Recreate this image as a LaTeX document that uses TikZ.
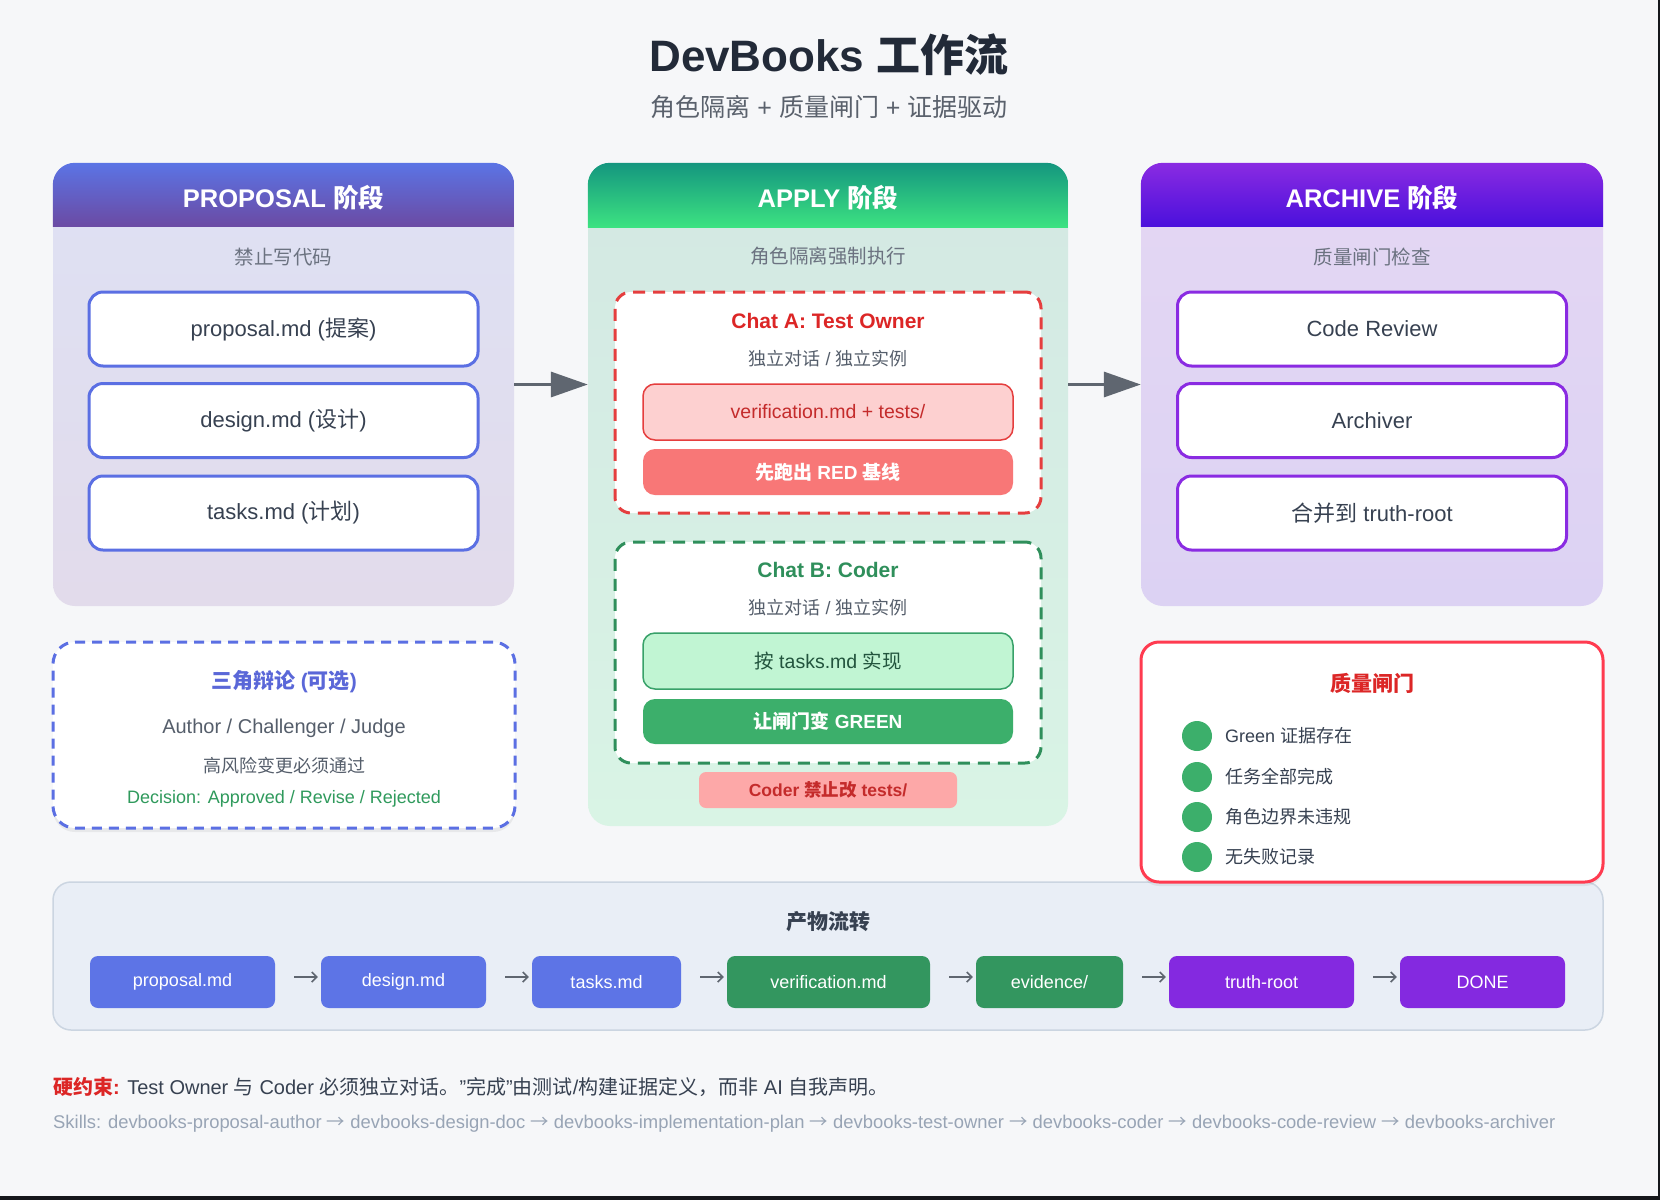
\documentclass[tikz,border=0pt]{standalone}
\usepackage{fontspec}
\setmainfont{Liberation Sans}
\newfontfamily\cjk{Noto Sans CJK SC}
\newcommand\zh[1]{{\cjk #1}}
\newcommand\setfs[1]{\fontsize{#1}{#1}\selectfont}
\newcommand\skarr{{\cjk →}}
\usetikzlibrary{arrows.meta,shadows,calc}

\definecolor{bgc}{HTML}{F6F7F9}
\definecolor{edgec}{HTML}{15171B}
\definecolor{titlec}{HTML}{222A38}
\definecolor{subc}{HTML}{5A616C}
\definecolor{bodyc}{HTML}{374151}
\definecolor{mutedc}{HTML}{6B7280}
\definecolor{propTop}{HTML}{DEE1F4}
\definecolor{propBot}{HTML}{E2DBEB}
\definecolor{propHTop}{HTML}{5B74E5}
\definecolor{propHBot}{HTML}{6B4AA3}
\definecolor{appTop}{HTML}{D3E8E3}
\definecolor{appBot}{HTML}{D9F4E5}
\definecolor{appHTop}{HTML}{14967F}
\definecolor{appHBot}{HTML}{3DE381}
\definecolor{arcTop}{HTML}{E4D7F3}
\definecolor{arcBot}{HTML}{DCD2F3}
\definecolor{arcHTop}{HTML}{8A2BE2}
\definecolor{arcHBot}{HTML}{4A10DC}
\definecolor{blueB}{HTML}{5B6FE3}
\definecolor{purpB}{HTML}{8A2BE2}
\definecolor{redA}{HTML}{DC2626}
\definecolor{redBorder}{HTML}{E53E3E}
\definecolor{redFill}{HTML}{FDD0D0}
\definecolor{redText}{HTML}{C42B2B}
\definecolor{redSolid}{HTML}{F87777}
\definecolor{pinkFill}{HTML}{FDA8A8}
\definecolor{greenB}{HTML}{2F8F5B}
\definecolor{greenFill}{HTML}{C1F5D3}
\definecolor{greenLine}{HTML}{38A169}
\definecolor{greenText}{HTML}{22543D}
\definecolor{greenSolid}{HTML}{3CAF6B}
\definecolor{debGreen}{HTML}{2F9A5C}
\definecolor{debBlue}{HTML}{5A67D8}
\definecolor{gateRed}{HTML}{FF3B50}
\definecolor{flowFill}{HTML}{E9EEF6}
\definecolor{flowLine}{HTML}{CBD5E1}
\definecolor{fBlue}{HTML}{5D74E6}
\definecolor{fGreen}{HTML}{33965F}
\definecolor{fPurple}{HTML}{8429E0}
\definecolor{arrowc}{HTML}{5F6670}
\definecolor{skillc}{HTML}{98A4B5}

\begin{document}
\begin{tikzpicture}[x=1pt,y=-1pt,
  panel/.style={rounded corners=22pt, inner sep=0pt},
  hdr/.style={text=white, font=\setfs{25.5}\bfseries, inner sep=0pt},
  psub/.style={text=mutedc, font=\setfs{19.5}, inner sep=0pt},
  itembox/.style={draw=#1, line width=3pt, fill=white, rounded corners=14pt,
    minimum width=389pt, minimum height=74pt, inner sep=0pt,
    text=bodyc, font=\setfs{22}},
  chatbox/.style={draw=#1, line width=3pt, dash pattern=on 12pt off 8pt,
    fill=white, rounded corners=16pt, inner sep=0pt,
    minimum width=426pt, minimum height=221pt},
  chattitle/.style={text=#1, font=\setfs{21}\bfseries, inner sep=0pt},
  chatsub/.style={text=bodyc!85!white, font=\setfs{18}, inner sep=0pt},
  bigarrow/.style={draw=arrowc, line width=3.3pt, -{Triangle[length=37pt,width=25pt]}},
  flowfile/.style={fill=#1, rounded corners=8pt, minimum height=52pt,
    inner sep=0pt, text=white, font=\setfs{18}},
  flowarr/.style={draw=arrowc, line width=1.5pt, -{Straight Barb[length=5pt,width=10pt]},
    shorten <=19pt, shorten >=3pt},
  gdot/.style={circle, fill=greenSolid, minimum size=30pt, inner sep=0pt},
  gtxt/.style={anchor=west, text=bodyc, font=\setfs{18}, inner sep=0pt},
  softshadow/.style={drop shadow={shadow xshift=0pt, shadow yshift=-4pt, opacity=0.10, fill=black!60}}
]
\useasboundingbox (0,0) rectangle (1660,1200);
\fill[bgc] (0,0) rectangle (1660,1200);
\fill[edgec] (1658,0) rectangle (1660,1200);
\fill[edgec] (0,1196) rectangle (1660,1200);

% Title
\node[font=\setfs{44}\bfseries, text=titlec, inner sep=0pt] (title) at (829,55) {DevBooks \zh{工作流}};
\node[font=\setfs{25}, text=subc, inner sep=0pt] (subtitle) at (829,107) {\zh{角色隔离} + \zh{质量闸门} + \zh{证据驱动}};

% Panels
\node[panel, top color=propTop, bottom color=propBot, minimum width=461pt, minimum height=443pt] (prop) at (283.5,384.5) {};
\node[panel, top color=appTop, bottom color=appBot, minimum width=480pt, minimum height=663pt] (app) at (828,494.5) {};
\node[panel, top color=arcTop, bottom color=arcBot, minimum width=462pt, minimum height=443pt] (arc) at (1372,384.5) {};

\begin{scope}
\clip[rounded corners=22pt] (prop.north west) rectangle (prop.south east);
\shade[top color=propHTop, bottom color=propHBot] (prop.north west) rectangle ([yshift=-64pt]prop.north east);
\end{scope}
\begin{scope}
\clip[rounded corners=22pt] (app.north west) rectangle (app.south east);
\shade[top color=appHTop, bottom color=appHBot] (app.north west) rectangle ([yshift=-65pt]app.north east);
\end{scope}
\begin{scope}
\clip[rounded corners=22pt] (arc.north west) rectangle (arc.south east);
\shade[top color=arcHTop, bottom color=arcHBot] (arc.north west) rectangle ([yshift=-64pt]arc.north east);
\end{scope}

\node[hdr] (propH) at (283.5,198) {PROPOSAL \zh{阶段}};
\node[hdr] (appH) at (828,198) {APPLY \zh{阶段}};
\node[hdr] (arcH) at (1372,198) {ARCHIVE \zh{阶段}};

\node[psub] (propS) at (283.5,257) {\zh{禁止写代码}};
\node[psub] (appS) at (828,256) {\zh{角色隔离强制执行}};
\node[psub] (arcS) at (1372,257) {\zh{质量闸门检查}};

% Proposal items
\node[itembox=blueB] (p1) at (283.5,329) {proposal.md (\zh{提案})};
\node[itembox=blueB] (p2) at (283.5,420.5) {design.md (\zh{设计})};
\node[itembox=blueB] (p3) at (283.5,513) {tasks.md (\zh{计划})};

% Archive items
\node[itembox=purpB] (a1) at (1372,329) {Code Review};
\node[itembox=purpB] (a2) at (1372,420.5) {Archiver};
\node[itembox=purpB] (a3) at (1372,513) {\zh{合并到} truth-root};

% Arrows between phases
\draw[bigarrow] (prop.east) -- (prop.east -| app.west);
\draw[bigarrow] (prop.east -| app.east) -- (prop.east -| arc.west);

% Chat A
\node[chatbox=redBorder] (chatA) at (828,402.5) {};
\node[chattitle=redA] (chatAT) at (828,321) {Chat A: Test Owner};
\node[chatsub] (chatAS) at (828,359) {\zh{独立对话} / \zh{独立实例}};
\node[draw=redBorder, line width=1.5pt, fill=redFill, rounded corners=12pt,
  minimum width=370pt, minimum height=56pt, inner sep=0pt,
  text=redText, font=\setfs{19.5}] (verif) at (828,412) {verification.md + tests/};
\node[fill=redSolid, rounded corners=12pt, minimum width=370pt, minimum height=46pt,
  inner sep=0pt, text=white, font=\setfs{19}\bfseries] (redb) at (828,472) {\zh{先跑出} RED \zh{基线}};

% Chat B
\node[chatbox=greenB] (chatB) at (828,652.5) {};
\node[chattitle=greenB] (chatBT) at (828,570) {Chat B: Coder};
\node[chatsub] (chatBS) at (828,608) {\zh{独立对话} / \zh{独立实例}};
\node[draw=greenLine, line width=1.5pt, fill=greenFill, rounded corners=12pt,
  minimum width=370pt, minimum height=56pt, inner sep=0pt,
  text=greenText, font=\setfs{19.5}] (impl) at (828,661) {\zh{按} tasks.md \zh{实现}};
\node[fill=greenSolid, rounded corners=12pt, minimum width=370pt, minimum height=45pt,
  inner sep=0pt, text=white, font=\setfs{19}\bfseries] (greenb) at (828,721.5) {\zh{让闸门变} GREEN};

\node[fill=pinkFill, rounded corners=7pt, minimum width=258pt, minimum height=36pt,
  inner sep=0pt, text=redText, font=\setfs{17.5}\bfseries] (nofix) at (828,790) {Coder \zh{禁止改} tests/};

% Debate box
\node[draw=blueB, line width=3pt, dash pattern=on 10pt off 7pt, fill=white,
  rounded corners=22pt, minimum width=462pt, minimum height=186pt, inner sep=0pt,
  softshadow] (deb) at (284,735) {};
\node[text=debBlue, font=\setfs{21}\bfseries, inner sep=0pt] (debT) at (284,682) {\zh{三角辩论} (\zh{可选})};
\node[text=bodyc!85!white, font=\setfs{20}, inner sep=0pt] (debR) at (284,728) {Author / Challenger / Judge};
\node[text=bodyc!85!white, font=\setfs{18}, inner sep=0pt] (debH) at (284,766) {\zh{高风险变更必须通过}};
\node[text=debGreen, font=\setfs{18}, inner sep=0pt] (debD) at (284,799) {Decision: Approved / Revise / Rejected};

% Flow box
\node[draw=flowLine, line width=1.5pt, fill=flowFill, rounded corners=18pt,
  minimum width=1550pt, minimum height=148pt, inner sep=0pt] (flow) at (828,956) {};
\node[text=bodyc, font=\setfs{21}\bfseries, inner sep=0pt] (flowT) at (828,922) {\zh{产物流转}};
\node[flowfile=fBlue, minimum width=185pt] (f1) at (182.5,982) {proposal.md};
\node[flowfile=fBlue, minimum width=165pt] (f2) at (403.5,982) {design.md};
\node[flowfile=fBlue, minimum width=149pt] (f3) at (606.5,982) {tasks.md};
\node[flowfile=fGreen, minimum width=203pt] (f4) at (828.5,982) {verification.md};
\node[flowfile=fGreen, minimum width=147pt] (f5) at (1049.5,982) {evidence/};
\node[flowfile=fPurple, minimum width=185pt] (f6) at (1261.5,982) {truth-root};
\node[flowfile=fPurple, minimum width=165pt] (f7) at (1482.5,982) {DONE};
\foreach \a/\b in {f1/f2,f2/f3,f3/f4,f4/f5,f5/f6,f6/f7}{
  \draw[flowarr] ([yshift=5pt]\a.east) -- ([yshift=5pt]\b.west);
}

% Quality gate box (drawn over the flow box edge)
\node[draw=gateRed, line width=3pt, fill=white, rounded corners=18pt,
  minimum width=462pt, minimum height=240pt, inner sep=0pt, softshadow] (gate) at (1372,762) {};
\node[text=redA, font=\setfs{21}\bfseries, inner sep=0pt] (gateT) at (1372,683) {\zh{质量闸门}};
\node[gdot] (g1) at (1197,736) {};
\node[gdot] (g2) at (1197,777) {};
\node[gdot] (g3) at (1197,817) {};
\node[gdot] (g4) at (1197,857) {};
\node[gtxt] (g1t) at (1225,736) {Green \zh{证据存在}};
\node[gtxt] (g2t) at (1225,777) {\zh{任务全部完成}};
\node[gtxt] (g3t) at (1225,817) {\zh{角色边界未违规}};
\node[gtxt] (g4t) at (1225,857) {\zh{无失败记录}};

% Footer
\node[anchor=west, text=bodyc, font=\setfs{20}, inner sep=0pt] (rule) at (53,1087)
  {{\color{redA}\bfseries\zh{硬约束}:} Test Owner \zh{与} Coder \zh{必须独立对话。}"\zh{完成}"\zh{由测试}/\zh{构建证据定义，而非} AI \zh{自我声明。}};
\node[anchor=west, text=skillc, font=\setfs{18.4}, inner sep=0pt] (skills) at (53,1124)
  {Skills: devbooks-proposal-author \skarr{} devbooks-design-doc \skarr{} devbooks-implementation-plan \skarr{} devbooks-test-owner \skarr{} devbooks-coder \skarr{} devbooks-code-review \skarr{} devbooks-archiver};
\end{tikzpicture}
\end{document}
